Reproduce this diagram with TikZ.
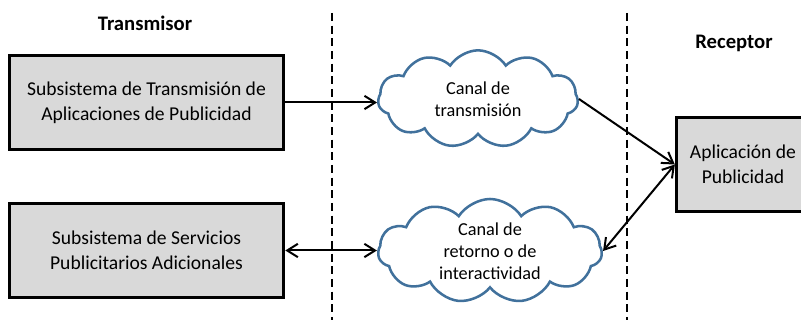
\documentclass[tikz,border=0pt]{standalone}
\usepackage{fontspec}
\setmainfont{Carlito}
\usepackage{tikz}
\usetikzlibrary{shapes.symbols}
\usetikzlibrary{arrows.meta}

\definecolor{cloudblue}{HTML}{41719C}
\definecolor{boxgray}{HTML}{D9D9D9}

\tikzset{
  bloque/.style={draw=black, line width=2.2pt, fill=boxgray, align=center,
    font=\fontsize{14.7}{18.75}\selectfont},
  nube/.style={cloud, cloud puffs=11, cloud puff arc=115, aspect=2, draw=cloudblue,
    line width=1.9pt, align=center, inner sep=0pt, font=\fontsize{13.7}{16.5}\selectfont},
  titulo/.style={font=\fontsize{15.5}{18}\selectfont\bfseries},
  flecha/.style={line width=1.5pt, -{Straight Barb[length=8pt,width=10pt,line width=1.5pt]}},
  dflecha/.style={line width=1.5pt, {Straight Barb[length=8pt,width=10pt,line width=1.5pt]}-{Straight Barb[length=8pt,width=10pt,line width=1.5pt]}}
}

\begin{document}
\begin{tikzpicture}[x=0.75pt, y=0.75pt]
\useasboundingbox (0,0) rectangle (801,320);

% separadores
\draw[line width=1.2pt, dash pattern=on 6pt off 3.5pt] (332,307) -- (332,0);
\draw[line width=1.2pt, dash pattern=on 6pt off 3.5pt] (627,307) -- (627,0);

% titulos
\node[titulo, anchor=center] (tTx) at (145,297) {Transmisor};
\node[titulo, anchor=center] (tRx) at (734,277) {Receptor};

% bloques
\node[bloque, anchor=center, minimum width=206pt, minimum height=71pt] (subTx) at (146.5,217.5)
  {Subsistema de Transmisión de\\Aplicaciones de Publicidad};
\node[bloque, anchor=center, minimum width=206pt, minimum height=71pt] (subSrv) at (146.5,69.5)
  {Subsistema de Servicios\\Publicitarios Adicionales};
\node[bloque, anchor=center, minimum width=100pt, minimum height=71pt] (app) at (743,155.5)
  {Aplicación de\\Publicidad};

% nubes
\node[nube, anchor=center, minimum width=150pt, minimum height=73pt] (canalTx) at (478,221)
  {Canal de\\transmisión};
\node[nube, anchor=center, minimum width=168pt, minimum height=78pt] (canalRet) at (490,69)
  {Canal de\\retorno o de\\interactividad};

% conexiones
\draw[flecha] (subTx.east) -- (subTx.east -| canalTx.west);
\draw[flecha] (canalTx.east) -- (app.west);
\draw[dflecha] (subSrv.east) -- (subSrv.east -| canalRet.west);
\draw[dflecha] (canalRet.east) -- (app.west);
\end{tikzpicture}
\end{document}
